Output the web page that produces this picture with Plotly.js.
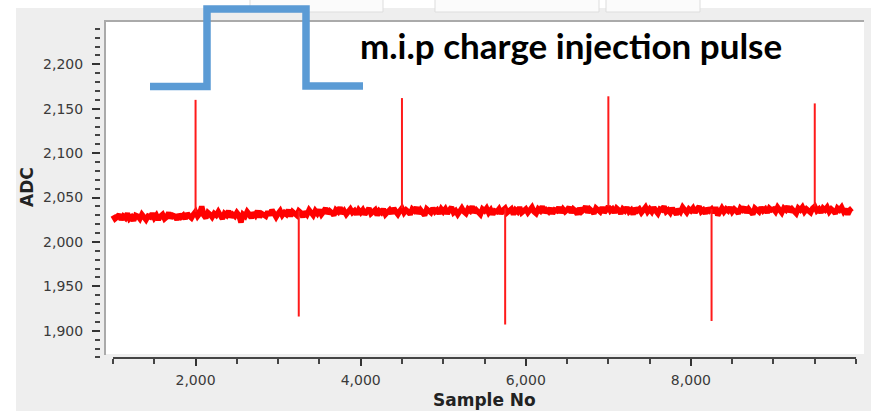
<!DOCTYPE html>
<html>
<head>
<meta charset="utf-8">
<script src="https://cdn.plot.ly/plotly-3.0.1.min.js"></script>
<style>html,body{margin:0;padding:0;background:#fff;}#chart{width:875px;height:411px;}</style>
</head>
<body>
<div id="chart"></div>
<script>
// Baseline ADC readings, every 25 samples from 1000
const sampleStart = 1000;
const sampleStep = 25;
const baselineADC = [
2030,2026,2028,2031,2025,2029,2027,2032,2026,2028,2024,2030,2029,2026,2031,2027,2025,2029,2028,2032,
2027,2030,2025,2029,2031,2026,2028,2033,2027,2030,2029,2025,2031,2028,2030,2026,2032,2029,2027,2031,
2034,2029,2032,2040,2030,2027,2033,2031,2028,2032,2030,2034,2029,2026,2032,2030,2035,2028,2031,2029,
2033,2030,2022,2031,2029,2034,2031,2027,2033,2030,2035,2028,2032,2031,2029,2034,2030,2036,2031,2028,
2032,2035,2030,2033,2031,2036,2029,2034,2032,2030,2035,2033,2028,2034,2031,2036,2033,2030,2035,2032,
2036,2031,2034,2038,2032,2035,2033,2030,2036,2034,2039,2032,2035,2031,2034,2037,2033,2035,2031,2036,
2033,2036,2031,2035,2038,2032,2034,2036,2030,2035,2033,2037,2031,2034,2036,2032,2038,2034,2031,2035,
2038,2033,2036,2034,2031,2037,2035,2039,2032,2036,2034,2030,2037,2035,2033,2038,2034,2036,2032,2037,
2034,2037,2032,2036,2039,2033,2035,2031,2036,2038,2034,2032,2037,2035,2040,2033,2036,2034,2031,2037,
2035,2038,2033,2036,2031,2035,2034,2037,2032,2036,2038,2033,2035,2037,2031,2036,2034,2039,2033,2035,
2037,2033,2036,2039,2034,2032,2037,2035,2040,2033,2036,2034,2038,2032,2036,2035,2039,2033,2037,2034,
2036,2039,2033,2037,2035,2031,2038,2034,2036,2040,2033,2037,2035,2032,2038,2036,2034,2039,2033,2036,
2040,2035,2037,2033,2038,2036,2032,2037,2035,2039,2034,2036,2031,2038,2035,2037,2033,2036,2039,2034,
2037,2034,2039,2035,2032,2037,2036,2040,2034,2036,2033,2038,2035,2031,2037,2034,2039,2036,2033,2037,
2035,2038,2033,2037,2040,2034,2036,2032,2038,2035,2037,2033,2039,2030,2036,2038,2034,2037,2035,2039,
2034,2037,2035,2032,2038,2036,2039,2033,2037,2035,2031,2038,2036,2034,2039,2035,2037,2033,2038,2036,
2037,2034,2039,2035,2033,2038,2036,2040,2034,2037,2035,2032,2038,2036,2039,2034,2037,2035,2033,2038,
2040,2035,2037,2033,2038,2036,2039,2034,2037,2035,2032,2038,2036,2039,2034,2037,2031,2036,2038
];
// Injection pulses (sample number, peak ADC)
const pulseSample = [2000, 3250, 4500, 5750, 7000, 8250, 9500];
const pulseADC    = [2160, 1916, 2162, 1907, 2164, 1911, 2156];
// Axis labels
const xTickVals = [2000, 4000, 6000, 8000];
const xTickText = ['2,000', '4,000', '6,000', '8,000'];
const yTitle = 'ADC';
const xTitle = 'Sample No';
const noteText = 'm.i.p charge injection pulse';

const baseX = baselineADC.map((v, i) => sampleStart + i * sampleStep);

const spikeX = [], spikeY = [];
pulseSample.forEach((s, k) => {
  const idx = baseX.indexOf(s);
  spikeX.push(s, s, null);
  spikeY.push(baselineADC[idx], pulseADC[k], null);
});

// pixel helpers for paper coordinates (plot area: x 101..864, y 21..358)
const L = 101, R = 864, T = 21, B = 358;
const px = v => (v - L) / (R - L);
const py = v => (B - v) / (B - T);

const traces = [
  {x: baseX, y: baselineADC, type: 'scatter', mode: 'lines',
   line: {color: '#ff0000', width: 5.5}, hoverinfo: 'skip'},
  {x: spikeX, y: spikeY, type: 'scatter', mode: 'lines',
   line: {color: '#ff1a1a', width: 2}, hoverinfo: 'skip', connectgaps: false}
];

const tickFont = {family: 'DejaVu Sans', size: 14, color: '#3a3a3a'};

const pulsePath = 'M ' + px(150) + ' ' + py(86.5) + ' L ' + px(207) + ' ' + py(86.5) +
  ' L ' + px(207) + ' ' + py(9) + ' L ' + px(306) + ' ' + py(9) +
  ' L ' + px(306) + ' ' + py(86) + ' L ' + px(363) + ' ' + py(86);

const layout = {
  width: 875, height: 411,
  margin: {l: L, r: 875 - R, t: T, b: 411 - B, pad: 0},
  paper_bgcolor: '#eeeeee',
  plot_bgcolor: '#eeeeee',
  showlegend: false,
  xaxis: {
    range: [1000 - 12 / 0.08256, 1000 + (R - 113) / 0.08256],
    showline: false, zeroline: false, showgrid: false,
    tickmode: 'array', tickvals: xTickVals, ticktext: xTickText,
    ticks: 'outside', ticklen: 7, tickwidth: 2, tickcolor: '#333',
    tickfont: tickFont, ticklabelstandoff: 2,
    minor: {tick0: 1000, dtick: 500, ticks: 'outside', ticklen: 5, tickwidth: 2, tickcolor: '#444', showgrid: false}
  },
  yaxis: {
    range: [1869.3, 2248.8],
    showline: false, zeroline: false, showgrid: false,
    tickmode: 'linear', tick0: 1900, dtick: 50, tickformat: ',d',
    ticks: 'outside', ticklen: 8, tickwidth: 2, tickcolor: '#333',
    tickfont: tickFont, ticklabelstandoff: 6,
    minor: {tick0: 1900, dtick: 10, ticks: 'outside', ticklen: 5, tickwidth: 2, tickcolor: '#444', showgrid: false}
  },
  shapes: [
    {type: 'rect', xref: 'paper', yref: 'paper', x0: px(104), x1: 1, y0: py(354), y1: 1,
     fillcolor: '#ffffff', line: {width: 0}, layer: 'below'},
    {type: 'line', xref: 'paper', yref: 'paper', x0: px(105), x1: px(105), y0: py(355), y1: 1,
     line: {color: '#aaaaaa', width: 2}, layer: 'below'},
    {type: 'line', xref: 'paper', yref: 'paper', x0: px(104), x1: px(864), y0: py(21), y1: py(21),
     line: {color: '#aaaaaa', width: 2}, layer: 'below'},
    {type: 'line', xref: 'x', yref: 'paper', x0: 1000, x1: 10000, y0: 0, y1: 0,
     line: {color: '#444', width: 2}, layer: 'above'},
    {type: 'rect', xref: 'paper', yref: 'paper', x0: px(0), x1: px(16), y0: py(411), y1: py(0),
     fillcolor: '#ffffff', line: {width: 0}, layer: 'above'},
    {type: 'rect', xref: 'paper', yref: 'paper', x0: px(0), x1: px(875), y0: py(8), y1: py(0),
     fillcolor: '#ffffff', line: {width: 0}, layer: 'above'},
    {type: 'rect', xref: 'paper', yref: 'paper', x0: px(871), x1: px(875), y0: py(411), y1: py(0),
     fillcolor: '#ffffff', line: {width: 0}, layer: 'above'},
    {type: 'rect', xref: 'paper', yref: 'paper', x0: px(250), x1: px(383), y0: py(12), y1: py(-2),
     fillcolor: '#fbfbfb', line: {color: '#dddddd', width: 1}, layer: 'above'},
    {type: 'rect', xref: 'paper', yref: 'paper', x0: px(435), x1: px(599), y0: py(12), y1: py(-2),
     fillcolor: '#fbfbfb', line: {color: '#dddddd', width: 1}, layer: 'above'},
    {type: 'rect', xref: 'paper', yref: 'paper', x0: px(606), x1: px(700), y0: py(12), y1: py(-2),
     fillcolor: '#fbfbfb', line: {color: '#dddddd', width: 1}, layer: 'above'},
    {type: 'path', xref: 'paper', yref: 'paper', path: pulsePath,
     line: {color: '#5b9bd5', width: 7.5}, layer: 'above'}
  ],
  annotations: [
    {xref: 'paper', yref: 'paper', x: px(27), y: py(187), xanchor: 'center', yanchor: 'middle',
     text: '<b>' + yTitle + '</b>', textangle: -90, showarrow: false,
     font: {family: 'DejaVu Sans', size: 17, color: '#222'}},
    {xref: 'paper', yref: 'paper', x: px(484), y: py(400), xanchor: 'center', yanchor: 'middle',
     text: '<b>' + xTitle + '</b>', showarrow: false,
     font: {family: 'DejaVu Sans', size: 17, color: '#222'}},
    {xref: 'paper', yref: 'paper', x: px(571), y: py(45), xanchor: 'center', yanchor: 'middle',
     text: '<b>' + noteText + '</b>', showarrow: false,
     font: {family: 'Lato', size: 35, color: '#000'}}
  ]
};

Plotly.newPlot('chart', traces, layout, {staticPlot: true, displayModeBar: false});
</script>
</body>
</html>
